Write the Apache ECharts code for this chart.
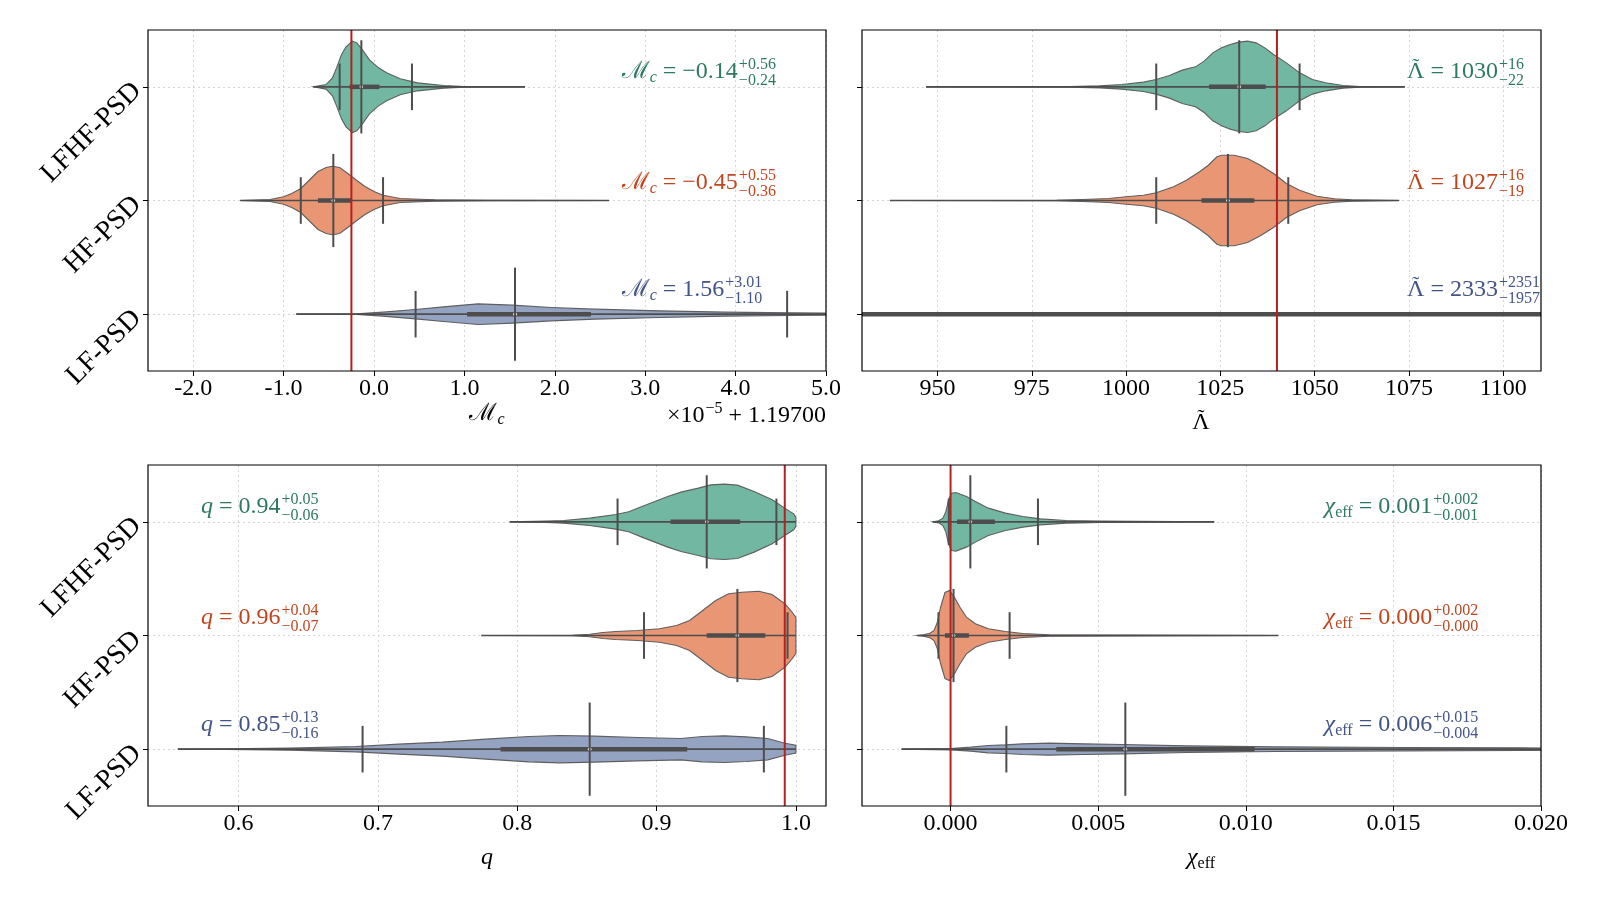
<!DOCTYPE html>
<html>
<head>
<meta charset="utf-8">
<script src="https://cdn.jsdelivr.net/npm/echarts@6/dist/echarts.min.js"></script>
<style>
  html, body { margin: 0; padding: 0; background: #fff; }
  #main { width: 1600px; height: 900px; }
</style>
</head>
<body>
<div id="main"></div>
<script>
// categories, bottom to top
var categories = ['LF-PSD', 'HF-PSD', 'LFHF-PSD'];

// violin profiles: [x, half-width density]
var mcLF = [[-0.86, 0], [-0.19, 0.3], [0.10, 2], [0.46, 4.7], [0.77, 7.3], [1.15, 10.3], [1.53, 9], [1.96, 6.7], [2.44, 5], [3.16, 3.3], [3.88, 2], [4.6, 1.3], [5.3, 0.8], [6.5, 0.3], [8.0, 0]];
var mcHF = [[-1.48, 0], [-1.15, 1], [-1.0, 3.7], [-0.91, 7], [-0.81, 12], [-0.72, 20], [-0.62, 29], [-0.53, 33], [-0.46, 34.3], [-0.38, 33], [-0.29, 27], [-0.19, 20], [-0.10, 14], [0.0, 9], [0.10, 5.3], [0.29, 2], [0.67, 0.7], [1.25, 0.3], [2.6, 0]];
var mcLFHF = [[-0.67, 0], [-0.53, 2.3], [-0.46, 9], [-0.41, 20], [-0.36, 32], [-0.31, 40], [-0.24, 45.7], [-0.19, 44], [-0.12, 36], [-0.05, 27], [0.05, 19], [0.14, 14], [0.29, 8], [0.48, 4], [0.77, 1.3], [1.0, 0.3], [1.67, 0]];

var lamLF = [[0, 0], [400, 0.6], [1200, 1.0], [2300, 1.0], [4000, 0.6], [6000, 0]];
var lamHF = [[937.4, 0], [981.6, 0.3], [988.5, 1], [995.4, 2], [1000, 3.7], [1004.6, 5.3], [1008, 7.7], [1012.6, 13.7], [1016, 20.3], [1019.5, 28.7], [1021.8, 35.3], [1024.1, 43.7], [1025.3, 45.3], [1028.7, 45.3], [1032.2, 42], [1035.6, 35.3], [1039.1, 27], [1042.5, 17], [1046, 10.3], [1050.6, 4.3], [1055.2, 1.7], [1059.8, 0.7], [1072.4, 0]];
var lamLFHF = [[947, 0], [985, 0.3], [993, 1], [998.9, 2.3], [1004.6, 4.7], [1008, 7.3], [1011.5, 11.3], [1014.9, 16.7], [1018.4, 20], [1020.7, 25.7], [1023, 34], [1025.3, 39], [1027.6, 42.3], [1029.9, 44.7], [1032.2, 45.7], [1034.5, 44], [1036.8, 39], [1039.1, 32.3], [1042.5, 24], [1046, 14], [1049.4, 7.3], [1052.9, 4], [1057.5, 1.3], [1062, 0.3], [1073.9, 0]];

var qLF = [[0.5564, 0], [0.5907, 0.3], [0.637, 1], [0.684, 2.7], [0.715, 5], [0.7463, 7], [0.7774, 10], [0.8086, 12.7], [0.8303, 13.7], [0.8553, 13], [0.8864, 11.7], [0.9175, 10.7], [0.933, 12.7], [0.9486, 13.3], [0.9642, 12.3], [0.9798, 10.7], [0.9922, 6], [1.0, 4]];
var qHF = [[0.7743, 0], [0.8397, 0.3], [0.852, 1.3], [0.8615, 3], [0.8708, 4], [0.8864, 5], [0.902, 6.7], [0.9144, 10], [0.9237, 15], [0.9331, 25], [0.9424, 35], [0.9517, 41.7], [0.9611, 43.3], [0.9735, 44.3], [0.9829, 41], [0.9922, 31.7], [0.9969, 24], [1.0, 18]];
var qLFHF = [[0.7946, 0], [0.821, 0.7], [0.8335, 1.3], [0.852, 3.7], [0.8708, 7.3], [0.880, 10], [0.8895, 15.3], [0.8988, 20.3], [0.908, 25.3], [0.9175, 29.7], [0.93, 33.7], [0.939, 37], [0.9486, 37.7], [0.958, 36.7], [0.970, 30.3], [0.983, 22], [0.992, 13.7], [0.9984, 8], [1.0, 4.5]];

var chiLF = [[-0.00166, 0], [0, 0.7], [0.00069, 2], [0.00128, 3.7], [0.00186, 4.3], [0.00245, 5.3], [0.00333, 6], [0.0045, 5.3], [0.00582, 4.7], [0.008, 3.3], [0.011, 2.3], [0.01535, 1.7], [0.0193, 1.3], [0.025, 0.8], [0.04, 0]];
var chiHF = [[-0.00113, 0], [-0.00092, 0.7], [-0.0007, 2.3], [-0.00056, 5], [-0.00045, 13], [-0.00034, 28], [-0.00019, 43], [-0.00004, 45], [0.00013, 38.3], [0.00032, 28.3], [0.00054, 18.3], [0.00084, 11.7], [0.00128, 6.7], [0.00186, 4], [0.00245, 2], [0.00333, 0.7], [0.0111, 0]];
var chiLFHF = [[-0.0006, 0], [-0.0004, 1], [-0.00026, 3.7], [-0.00016, 10], [-0.00007, 22], [0.00003, 28.7], [0.00018, 29.3], [0.00054, 25.3], [0.00084, 20.3], [0.00128, 13.7], [0.00186, 8.7], [0.00245, 5.3], [0.00304, 3], [0.00391, 1.3], [0.00509, 0.7], [0.00893, 0]];

// summary statistics, ordered like categories
var mcMedian = [1.56, -0.45, -0.14], mcLow = [0.46, -0.81, -0.38], mcHigh = [4.57, 0.10, 0.42];
var mcQ1 = [1.03, -0.62, -0.27], mcQ3 = [2.40, -0.25, 0.06];
var lamMedian = [2333, 1027, 1030], lamLow = [376, 1008, 1008], lamHigh = [4684, 1043, 1046];
var lamQ1 = [880, 1020, 1022], lamQ3 = [3500, 1034, 1037];
var qMedian = [0.852, 0.958, 0.936], qLow = [0.689, 0.891, 0.872], qHigh = [0.977, 0.994, 0.986];
var qQ1 = [0.788, 0.936, 0.910], qQ3 = [0.922, 0.978, 0.960];
var chiMedian = [0.00592, 0.0001, 0.00067], chiLow = [0.00189, -0.00041, -0.00006], chiHigh = [0.021, 0.002, 0.00296];
var chiQ1 = [0.00358, -0.00019, 0.00022], chiQ3 = [0.0103, 0.00062, 0.0015];

// injected values
var mcTrue = -0.25, lamTrue = 1040, qTrue = 0.992, chiTrue = 0.0;

// annotation texts
var mcText = ['1.56', '−0.45', '−0.14'], mcUp = ['+3.01', '+0.55', '+0.56'], mcDown = ['−1.10', '−0.36', '−0.24'];
var lamText = ['2333', '1027', '1030'], lamUp = ['+2351', '+16', '+16'], lamDown = ['−1957', '−19', '−22'];
var qText = ['0.85', '0.96', '0.94'], qUp = ['+0.13', '+0.04', '+0.05'], qDown = ['−0.16', '−0.07', '−0.06'];
var chiText = ['0.006', '0.000', '0.001'], chiUp = ['+0.015', '+0.002', '+0.002'], chiDown = ['−0.004', '−0.000', '−0.001'];

// tick labels
var mcTicks = [-2, -1, 0, 1, 2, 3, 4, 5];
var lamTicks = [950, 975, 1000, 1025, 1050, 1075, 1100];
var qTicks = [0.6, 0.7, 0.8, 0.9, 1.0];
var chiTicks = [0, 0.005, 0.010, 0.015, 0.020];

var FONT = '"Liberation Serif", "DejaVu Serif", serif';
var fills = ['#95a3c3', '#e99675', '#71b7a1'];
var textColors = ['#435488', '#c1461f', '#2e7a5f'];
var GREY = '#4d4d4d';
var DENS = 1 / 113.7;   // density reading -> category units
var textLift = [0.211, 0.156, 0.132];

var grids = [
  { left: 148, top: 30, width: 678, height: 341 },
  { left: 862, top: 30, width: 679, height: 341 },
  { left: 148, top: 465, width: 678, height: 341 },
  { left: 862, top: 465, width: 679, height: 341 }
];

var panels = [
  { min: -2.5, max: 5.0, ticks: mcTicks, dec: 1, prof: [mcLF, mcHF, mcLFHF], med: mcMedian, lo: mcLow, hi: mcHigh, q1: mcQ1, q3: mcQ3, truth: mcTrue,
    sym: 'mc', txt: mcText, up: mcUp, down: mcDown, tx: 2.74, align: 'left' },
  { min: 930, max: 1110, ticks: lamTicks, dec: 0, prof: [lamLF, lamHF, lamLFHF], med: lamMedian, lo: lamLow, hi: lamHigh, q1: lamQ1, q3: lamQ3, truth: lamTrue,
    sym: 'lam', txt: lamText, up: lamUp, down: lamDown, tx: 1074.5, align: 'left' },
  { min: 0.535, max: 1.0216, ticks: qTicks, dec: 1, prof: [qLF, qHF, qLFHF], med: qMedian, lo: qLow, hi: qHigh, q1: qQ1, q3: qQ3, truth: qTrue,
    sym: 'q', txt: qText, up: qUp, down: qDown, tx: 0.573, align: 'left' },
  { min: -0.003, max: 0.020, ticks: chiTicks, dec: 3, prof: [chiLF, chiHF, chiLFHF], med: chiMedian, lo: chiLow, hi: chiHigh, q1: chiQ1, q3: chiQ3, truth: chiTrue,
    sym: 'chi', txt: chiText, up: chiUp, down: chiDown, tx: 0.01267, align: 'left' }
];

var measureCtx = document.createElement('canvas').getContext('2d');
function textWidth(t, size, italic) {
  measureCtx.font = (italic ? 'italic ' : '') + size + 'px ' + FONT;
  return measureCtx.measureText(t).width;
}

// lays out a small formula: tokens are plain pieces, accented letters or stacked sup/sub
function formula(x0, y0, toks, color, align) {
  var pieces = [], x = 0;
  toks.forEach(function (k) {
    if (k.sup !== undefined) {
      var w = Math.max(textWidth(k.sup, 16), textWidth(k.sub, 16));
      pieces.push({ t: k.sup, x: x + 1, dy: -7, size: 16 });
      pieces.push({ t: k.sub, x: x + 1, dy: 9, size: 16 });
      x += w + 1;
    } else {
      var s = k.size || 24;
      var w0 = textWidth(k.t, s, k.italic);
      pieces.push({ t: k.t, x: x, dy: k.dy || 0, size: s, italic: k.italic });
      if (k.accent) {
        var wa = textWidth(k.accent, 22);
        pieces.push({ t: k.accent, x: x + (w0 - wa) / 2, dy: -5, size: 22 });
      }
      x += w0;
    }
  });
  var off = align === 'right' ? -x : (align === 'center' ? -x / 2 : 0);
  return pieces.map(function (p) {
    return {
      type: 'text', x: x0 + off + p.x, y: y0 + p.dy, silent: true,
      style: { text: p.t, fontSize: p.size, fontFamily: FONT, fontStyle: p.italic ? 'italic' : 'normal',
               fill: color, align: 'left', verticalAlign: 'middle' }
    };
  });
}

function symbolTokens(sym) {
  if (sym === 'mc') return [{ t: 'ℳ' }, { t: 'c', size: 16, italic: true, dy: 6 }];
  if (sym === 'lam') return [{ t: 'Λ', accent: '˜' }];
  if (sym === 'q') return [{ t: 'q', italic: true }];
  return [{ t: 'χ', italic: true }, { t: 'eff', size: 16, dy: 6 }];
}

function violinRender(p) {
  return function (params, api) {
    var i = params.dataIndex;
    var c = api.value(1);
    var prof = p.prof[i];
    var top = [], bot = [];
    prof.forEach(function (pt) {
      top.push(api.coord([pt[0], c + pt[1] * DENS]));
      bot.unshift(api.coord([pt[0], c - pt[1] * DENS]));
    });
    function seg(x1, y1, x2, y2, w) {
      var a = api.coord([x1, y1]), b = api.coord([x2, y2]);
      return { type: 'line', shape: { x1: a[0], y1: a[1], x2: b[0], y2: b[1] }, style: { stroke: GREY, lineWidth: w } };
    }
    var m = api.coord([p.med[i], c]);
    return {
      type: 'group',
      children: [
        { type: 'polygon', shape: { points: top.concat(bot) }, style: { fill: fills[i], stroke: '#5f5f5f', lineWidth: 1.1 } },
        seg(prof[0][0], c, prof[prof.length - 1][0], c, 1.6),
        seg(p.q1[i], c, p.q3[i], c, 4.5),
        { type: 'circle', shape: { cx: m[0], cy: m[1], r: 1.8 }, style: { fill: '#fff' } },
        seg(p.lo[i], c - 0.205, p.lo[i], c + 0.205, 2),
        seg(p.hi[i], c - 0.205, p.hi[i], c + 0.205, 2),
        seg(p.med[i], c - 0.41, p.med[i], c + 0.41, 2)
      ]
    };
  };
}

function labelRender(p) {
  return function (params, api) {
    var i = params.dataIndex;
    var pos = api.coord([api.value(0), api.value(1) + textLift[i]]);
    var toks = symbolTokens(p.sym).concat([{ t: ' = ' + p.txt[i] }, { sup: p.up[i], sub: p.down[i] }]);
    return { type: 'group', children: formula(pos[0], pos[1], toks, textColors[i], p.align) };
  };
}

var xAxes = [], yAxes = [], series = [];
panels.forEach(function (p, g) {
  xAxes.push({
    type: 'value', gridIndex: g, min: p.min, max: p.max,
    axisLine: { show: false, onZero: false },
    axisTick: { show: true, length: 5, customValues: p.ticks, lineStyle: { color: '#000', width: 1 } },
    axisLabel: { customValues: p.ticks, fontSize: 24, fontFamily: FONT, color: '#000', margin: 6, hideOverlap: false,
                 formatter: function (v) { return Number(v).toFixed(p.dec); } },
    splitLine: { show: true, lineStyle: { color: '#d6d6d6', width: 1, type: [2, 3] } },
    minorTick: { show: false }, minorSplitLine: { show: false }
  });
  yAxes.push({
    type: 'value', gridIndex: g, min: -0.5, max: 2.5,
    axisLine: { show: false, onZero: false },
    axisTick: { show: true, length: 5, customValues: [0, 1, 2], lineStyle: { color: '#000', width: 1 } },
    axisLabel: { show: g % 2 === 0, customValues: [0, 1, 2], rotate: 45, fontSize: 28, fontFamily: FONT, color: '#000', margin: 11,
                 formatter: function (v) { return categories[Math.round(v)]; } },
    splitLine: { show: true, lineStyle: { color: '#d6d6d6', width: 1, type: [2, 3] } }
  });
  series.push({
    type: 'custom', xAxisIndex: g, yAxisIndex: g, clip: true, silent: true, z: 2,
    data: categories.map(function (name, c) { return [p.med[c], c]; }),
    renderItem: violinRender(p)
  });
  series.push({
    type: 'line', xAxisIndex: g, yAxisIndex: g, symbol: 'none', silent: true, z: 4,
    data: [[p.truth, -0.5], [p.truth, 2.5]],
    lineStyle: { color: '#b22222', width: 2 }
  });
  series.push({
    type: 'custom', xAxisIndex: g, yAxisIndex: g, silent: true, z: 5,
    data: categories.map(function (name, c) { return [p.tx, c]; }),
    renderItem: labelRender(p)
  });
});

var names = []
  .concat(formula(487, 414, [{ t: 'ℳ' }, { t: 'c', size: 16, italic: true, dy: 6 }], '#000', 'center'))
  .concat(formula(826, 416, [{ t: '×10' }, { sup: '−5', sub: '' }, { t: ' + 1.19700' }], '#000', 'right'))
  .concat(formula(1201, 423, [{ t: 'Λ', accent: '˜' }], '#000', 'center'))
  .concat(formula(487, 858, [{ t: 'q', italic: true }], '#000', 'center'))
  .concat(formula(1201, 858, [{ t: 'χ', italic: true }, { t: 'eff', size: 16, dy: 6 }], '#000', 'center'));

// panel frames drawn above the grid lines
grids.forEach(function (r) {
  names.push({ type: 'rect', z: 100, silent: true,
               shape: { x: r.left, y: r.top, width: r.width, height: r.height },
               style: { fill: 'none', stroke: '#000', lineWidth: 1.2 } });
});
names.forEach(function (el) { el.silent = true; });

var myChart = echarts.init(document.getElementById('main'));
myChart.setOption({
  animation: false,
  backgroundColor: '#fff',
  textStyle: { fontFamily: FONT },
  grid: grids.map(function (r) {
    return { left: r.left, top: r.top, width: r.width, height: r.height, show: false,
             containLabel: false, outerBoundsMode: 'none' };
  }),
  xAxis: xAxes,
  yAxis: yAxes,
  series: series,
  graphic: names
});
</script>
</body>
</html>
